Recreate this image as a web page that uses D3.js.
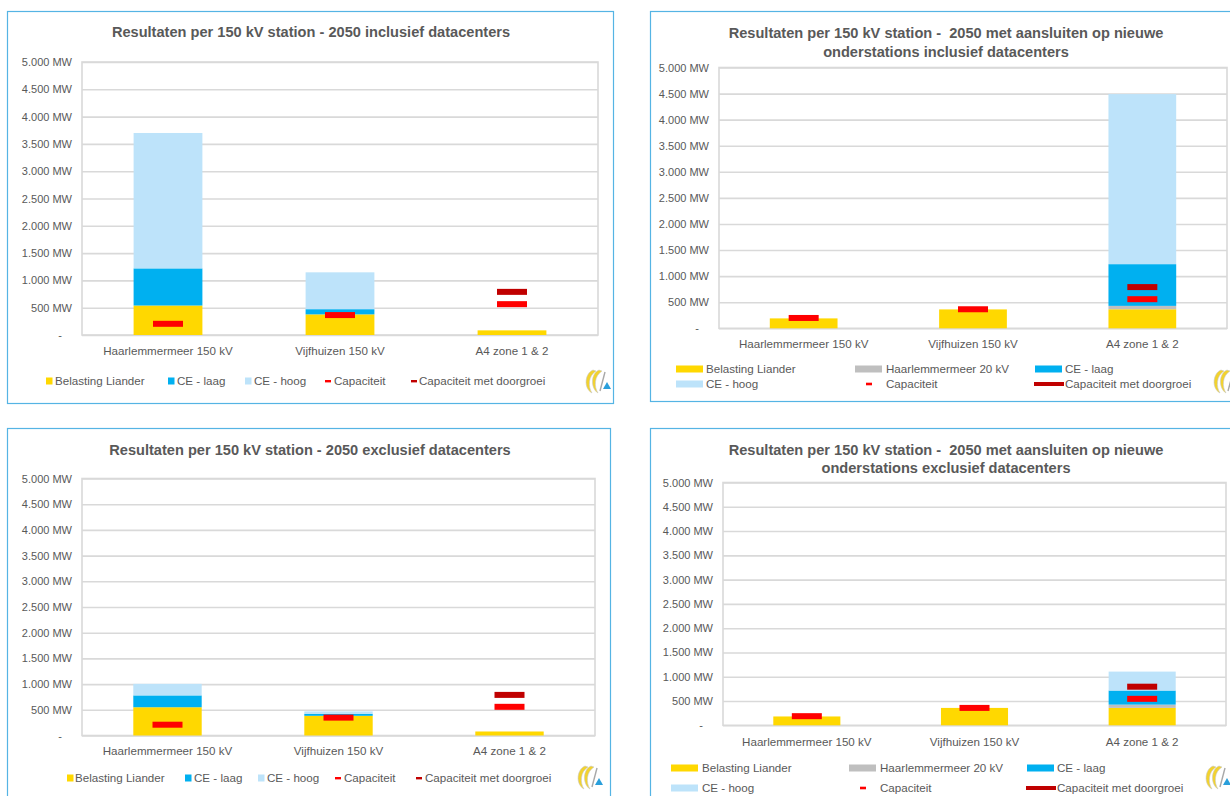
<!DOCTYPE html>
<html>
<head>
<meta charset="utf-8">
<script src="https://cdn.jsdelivr.net/npm/d3@7"></script>
<style>
  body { margin: 0; background: #ffffff; }
  svg { display: block; font-family: "Liberation Sans", Arial, sans-serif; }
  .title { white-space: pre; }
</style>
</head>
<body>
<svg id="chart" width="1230" height="796"></svg>
<script>
// ---- data -------------------------------------------------------------
const stations = ["Haarlemmermeer 150 kV", "Vijfhuizen 150 kV", "A4 zone 1 & 2"];
const tickValues = [0, 500, 1000, 1500, 2000, 2500, 3000, 3500, 4000, 4500, 5000];
const tickLabels = ["-", "500 MW", "1.000 MW", "1.500 MW", "2.000 MW", "2.500 MW",
                    "3.000 MW", "3.500 MW", "4.000 MW", "4.500 MW", "5.000 MW"];
const seriesNames = ["Belasting Liander", "Haarlemmermeer 20 kV", "CE - laag", "CE - hoog"];
const markerNames = ["Capaciteit", "Capaciteit met doorgroei"];

// 2050 inclusief datacenters (MW)
const inclBelasting   = [540, 378, 85];
const inclCeLaag      = [680, 95, 0];
const inclCeHoog      = [2480, 675, 0];
const inclCapaciteit  = [205, 365, 565];
const inclDoorgroei   = [null, null, 790];

// 2050 met aansluiten op nieuwe onderstations, inclusief datacenters (MW)
const nieuwInclBelasting  = [190, 362, 365];
const nieuwInclHm20kV     = [0, 0, 65];
const nieuwInclCeLaag     = [0, 0, 800];
const nieuwInclCeHoog     = [0, 0, 3260];
const nieuwInclCapaciteit = [198, 365, 558];
const nieuwInclDoorgroei  = [null, null, 790];

// 2050 exclusief datacenters (MW)
const exclBelasting   = [550, 383, 78];
const exclCeLaag      = [230, 40, 0];
const exclCeHoog      = [225, 45, 0];
const exclCapaciteit  = [210, 348, 558];
const exclDoorgroei   = [null, null, 790];

// 2050 met aansluiten op nieuwe onderstations, exclusief datacenters (MW)
const nieuwExclBelasting  = [182, 358, 358];
const nieuwExclHm20kV     = [0, 0, 68];
const nieuwExclCeLaag     = [0, 0, 290];
const nieuwExclCeHoog     = [0, 0, 390];
const nieuwExclCapaciteit = [188, 358, 545];
const nieuwExclDoorgroei  = [null, null, 795];

// ---- styling ----------------------------------------------------------
const seriesColors = {
  "Belasting Liander": "#FFD800",
  "Haarlemmermeer 20 kV": "#BFBFBF",
  "CE - laag": "#00B0F0",
  "CE - hoog": "#BDE3FA"
};
const markerColors = { "Capaciteit": "#FF0000", "Capaciteit met doorgroei": "#C00000" };
const textColor = "#595959";
const gridColor = "#D9D9D9";
const frameColor = "#55B4E4";

const svg = d3.select("#chart");

function buildRows(series) {
  return stations.map((s, i) => {
    const row = { station: s };
    Object.keys(series).forEach(k => { row[k] = series[k][i]; });
    return row;
  });
}

function drawLogo(g, x, y) {
  const lg = g.append("g").attr("transform", `translate(${x},${y})`);
  lg.append("path")
    .attr("d", "M10,0 C2,3 0,18 9,23 C5,17 5,6 13,1 Z")
    .attr("fill", "#F2D22E").attr("stroke", "#C9C9C9").attr("stroke-width", 0.6);
  lg.append("path")
    .attr("d", "M16,0 C8,3 7,18 15,23 C11,17 11,6 19,1 Z")
    .attr("fill", "#F2D22E").attr("stroke", "#C9C9C9").attr("stroke-width", 0.6);
  lg.append("path")
    .attr("d", "M22,2 L17,21")
    .attr("stroke", "#A8A8A8").attr("stroke-width", 1.4).attr("fill", "none");
  lg.append("path")
    .attr("d", "M24,12 L28,19 L20,19 Z")
    .attr("fill", "#2A9FDB");
}

function drawPanel(cfg) {
  const g = svg.append("g");
  const [bx0, by0, bx1, by1] = cfg.box;
  const [pl, pt, pr, pb] = cfg.plot;

  // outer frame
  g.append("rect")
    .attr("x", bx0 + 0.5).attr("y", by0 + 0.5)
    .attr("width", bx1 - bx0).attr("height", by1 - by0)
    .attr("fill", "#ffffff").attr("stroke", frameColor).attr("stroke-width", 1.2);

  // title
  const t = g.append("text").attr("class", "title")
    .attr("x", cfg.titleX).attr("text-anchor", "middle")
    .attr("fill", textColor).attr("font-size", 14.6).attr("font-weight", "bold");
  cfg.title.forEach((line, i) => {
    t.append("tspan").attr("x", cfg.titleX).attr("y", cfg.titleY[i]).attr("dy", "0.35em").text(line);
  });

  const x = d3.scaleBand().domain(stations).range([pl, pr]).paddingInner(0.6).paddingOuter(0.3);
  const y = d3.scaleLinear().domain([0, 5000]).range([pb, pt]);

  // gridlines
  const grid = g.append("g").attr("transform", `translate(${pl},0)`)
    .call(d3.axisLeft(y).tickValues(tickValues).tickSize(-(pr - pl)).tickFormat(""));
  grid.select(".domain").remove();
  grid.selectAll("line").attr("stroke", gridColor).attr("stroke-width", 1.6);

  // plot area border
  g.append("rect").attr("x", pl).attr("y", pt).attr("width", pr - pl).attr("height", pb - pt)
    .attr("fill", "none").attr("stroke", gridColor).attr("stroke-width", 1.6);

  // y labels
  const yAxis = g.append("g").attr("transform", `translate(${pl},0)`)
    .call(d3.axisLeft(y).tickValues(tickValues).tickSize(0).tickPadding(10)
      .tickFormat((d, i) => tickLabels[i]));
  yAxis.select(".domain").remove();
  yAxis.selectAll("text").attr("fill", textColor).attr("font-size", 11)
    .attr("font-family", "'Liberation Sans', Arial, sans-serif")
    .attr("dx", d => d === 0 ? -10 : 0);

  // stacked bars
  const keys = Object.keys(cfg.series);
  const layers = d3.stack().keys(keys)(buildRows(cfg.series));
  g.append("g").selectAll("g").data(layers).join("g")
    .attr("fill", d => seriesColors[d.key])
    .selectAll("rect").data(d => d.filter(v => v[1] - v[0] > 0)).join("rect")
    .attr("x", d => x(d.data.station))
    .attr("width", x.bandwidth())
    .attr("y", d => y(d[1]))
    .attr("height", d => y(d[0]) - y(d[1]));

  // capacity markers
  const mw = 30, mh = 6;
  cfg.markers.forEach(m => {
    g.append("g").selectAll("rect")
      .data(m.values.map((v, i) => ({ station: stations[i], v })).filter(d => d.v != null))
      .join("rect")
      .attr("x", d => x(d.station) + x.bandwidth() / 2 - mw / 2)
      .attr("y", d => y(d.v) - mh / 2)
      .attr("width", mw).attr("height", mh)
      .attr("fill", markerColors[m.name]);
  });

  // category labels
  g.append("g").selectAll("text").data(stations).join("text")
    .attr("x", d => x(d) + x.bandwidth() / 2)
    .attr("y", cfg.catY).attr("dy", "0.35em")
    .attr("text-anchor", "middle").attr("fill", textColor).attr("font-size", 11.6)
    .text(d => d);

  // legend
  const leg = g.append("g");
  cfg.legend.forEach(item => {
    const isMarker = markerNames.includes(item.name);
    const color = isMarker ? markerColors[item.name] : seriesColors[item.name];
    if (cfg.legendStyle === "compact") {
      if (isMarker) {
        leg.append("rect").attr("x", item.sx).attr("y", item.y - 1).attr("width", 6).attr("height", 2.4).attr("fill", color);
      } else {
        leg.append("rect").attr("x", item.sx).attr("y", item.y - 3.5).attr("width", 6.5).attr("height", 7).attr("fill", color);
      }
    } else {
      if (item.name === "Capaciteit") {
        leg.append("rect").attr("x", item.sx + 11).attr("y", item.y - 1.3).attr("width", 6).attr("height", 2.6).attr("fill", color);
      } else if (isMarker) {
        leg.append("rect").attr("x", item.sx - 1).attr("y", item.y - 2).attr("width", 30).attr("height", 4).attr("fill", color);
      } else {
        leg.append("rect").attr("x", item.sx).attr("y", item.y - 3.5).attr("width", 27).attr("height", 7).attr("fill", color);
      }
    }
    leg.append("text").attr("x", item.tx).attr("y", item.y).attr("dy", "0.35em")
      .attr("fill", textColor).attr("font-size", 11.6).text(item.name);
  });

  drawLogo(g, cfg.logo[0], cfg.logo[1]);
}

// ---- panels -----------------------------------------------------------
drawPanel({
  box: [7, 11, 613, 403],
  plot: [82, 62, 598, 335],
  title: ["Resultaten per 150 kV station - 2050 inclusief datacenters"],
  titleX: 311, titleY: [32],
  series: {
    "Belasting Liander": inclBelasting,
    "CE - laag": inclCeLaag,
    "CE - hoog": inclCeHoog
  },
  markers: [
    { name: "Capaciteit", values: inclCapaciteit },
    { name: "Capaciteit met doorgroei", values: inclDoorgroei }
  ],
  catY: 351,
  legendStyle: "compact",
  legend: [
    { name: "Belasting Liander", sx: 46, tx: 55, y: 381 },
    { name: "CE - laag", sx: 168, tx: 177, y: 381 },
    { name: "CE - hoog", sx: 245, tx: 254, y: 381 },
    { name: "Capaciteit", sx: 325, tx: 334, y: 381 },
    { name: "Capaciteit met doorgroei", sx: 411, tx: 419, y: 381 }
  ],
  logo: [583, 370]
});

drawPanel({
  box: [650, 11, 1245, 401],
  plot: [719, 67.5, 1227, 328.3],
  title: ["Resultaten per 150 kV station -  2050 met aansluiten op nieuwe",
          "onderstations inclusief datacenters"],
  titleX: 946, titleY: [33, 52],
  series: {
    "Belasting Liander": nieuwInclBelasting,
    "Haarlemmermeer 20 kV": nieuwInclHm20kV,
    "CE - laag": nieuwInclCeLaag,
    "CE - hoog": nieuwInclCeHoog
  },
  markers: [
    { name: "Capaciteit", values: nieuwInclCapaciteit },
    { name: "Capaciteit met doorgroei", values: nieuwInclDoorgroei }
  ],
  catY: 344,
  legendStyle: "wide",
  legend: [
    { name: "Belasting Liander", sx: 676, tx: 706, y: 369 },
    { name: "Haarlemmermeer 20 kV", sx: 855, tx: 886, y: 369 },
    { name: "CE - laag", sx: 1035, tx: 1065, y: 369 },
    { name: "CE - hoog", sx: 676, tx: 706, y: 384 },
    { name: "Capaciteit", sx: 855, tx: 886, y: 384 },
    { name: "Capaciteit met doorgroei", sx: 1035, tx: 1065, y: 384 }
  ],
  logo: [1211, 370]
});

drawPanel({
  box: [7, 428, 610, 810],
  plot: [82, 478.5, 595, 735.5],
  title: ["Resultaten per 150 kV station - 2050 exclusief datacenters"],
  titleX: 310, titleY: [450],
  series: {
    "Belasting Liander": exclBelasting,
    "CE - laag": exclCeLaag,
    "CE - hoog": exclCeHoog
  },
  markers: [
    { name: "Capaciteit", values: exclCapaciteit },
    { name: "Capaciteit met doorgroei", values: exclDoorgroei }
  ],
  catY: 751,
  legendStyle: "compact",
  legend: [
    { name: "Belasting Liander", sx: 67, tx: 75, y: 778 },
    { name: "CE - laag", sx: 185, tx: 194, y: 778 },
    { name: "CE - hoog", sx: 258, tx: 267, y: 778 },
    { name: "Capaciteit", sx: 335, tx: 344, y: 778 },
    { name: "Capaciteit met doorgroei", sx: 416, tx: 425, y: 778 }
  ],
  logo: [575, 766]
});

drawPanel({
  box: [650, 428, 1245, 810],
  plot: [723, 482.5, 1226, 725.3],
  title: ["Resultaten per 150 kV station -  2050 met aansluiten op nieuwe",
          "onderstations exclusief datacenters"],
  titleX: 946, titleY: [450, 468],
  series: {
    "Belasting Liander": nieuwExclBelasting,
    "Haarlemmermeer 20 kV": nieuwExclHm20kV,
    "CE - laag": nieuwExclCeLaag,
    "CE - hoog": nieuwExclCeHoog
  },
  markers: [
    { name: "Capaciteit", values: nieuwExclCapaciteit },
    { name: "Capaciteit met doorgroei", values: nieuwExclDoorgroei }
  ],
  catY: 742,
  legendStyle: "wide",
  legend: [
    { name: "Belasting Liander", sx: 671, tx: 702, y: 768 },
    { name: "Haarlemmermeer 20 kV", sx: 849, tx: 880, y: 768 },
    { name: "CE - laag", sx: 1027, tx: 1057, y: 768 },
    { name: "CE - hoog", sx: 671, tx: 702, y: 788 },
    { name: "Capaciteit", sx: 849, tx: 880, y: 788 },
    { name: "Capaciteit met doorgroei", sx: 1027, tx: 1057, y: 788 }
  ],
  logo: [1203, 766]
});
</script>
</body>
</html>
